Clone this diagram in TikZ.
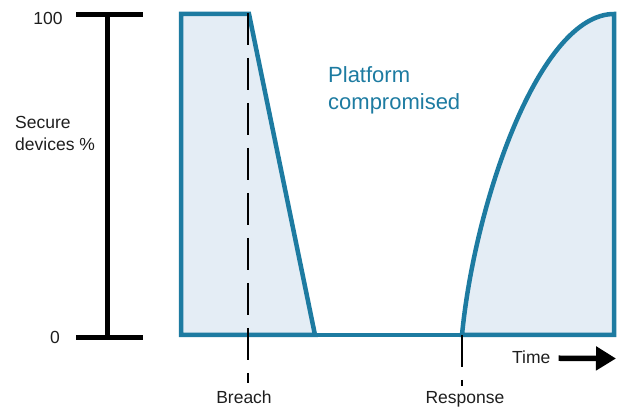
\documentclass[tikz,border=0pt]{standalone}
\usepackage{fontspec}
\setmainfont{Liberation Sans}
\usetikzlibrary{arrows.meta}

\definecolor{lineBlue}{HTML}{1D7BA1}
\definecolor{fillBlue}{HTML}{E4EDF5}
\definecolor{textGrey}{HTML}{1E1E1E}

\tikzset{
    lbl/.style={inner sep=0pt, text=textGrey, font=\fontsize{17.5}{22}\selectfont},
    curveline/.style={draw=lineBlue, line width=4.5pt},
    marker/.style={line width=2pt, dash pattern=on 32pt off 13pt}
}

\begin{document}
\begin{tikzpicture}[x=1pt, y=-1pt]
    \useasboundingbox (0,0) rectangle (619,411);

    \def\axisX{107.5}
    \def\topY{14}
    \def\baseY{335}
    \def\breachX{247.5}
    \def\responseX{462}
    \def\rightX{614}

    % secure-devices axis
    \draw[line width=5pt] (\axisX, 15) -- (\axisX, 338);
    \draw[line width=5pt] (76, 15) -- (143, 15);
    \draw[line width=5pt] (76, 338) -- (143, 338);
    \node[lbl, anchor=base east] (hundred) at (62.7, 25) {100};
    \node[lbl, anchor=base east] (zero) at (60, 344) {0};
    % base anchor sits on the last line
    \node[lbl, align=left, anchor=base west] (ylabel) at (15, 151) {Secure\\devices \%};

    % drop after the breach
    \fill[fillBlue] (181, \topY) -- (249, \topY) -- (315, \baseY) -- (181, \baseY) -- cycle;
    \draw[curveline] (181, \topY) -- (249, \topY) -- (315, \baseY) -- (181, \baseY) -- cycle;

    % flat part
    \draw[curveline] (315, \baseY) -- (\responseX, \baseY);

    % recovery after the response
    \fill[fillBlue] (\responseX, \baseY) .. controls (475, 200) and (540, \topY) .. (\rightX, \topY) -- (\rightX, \baseY) -- cycle;
    \draw[curveline] (\responseX, \baseY) .. controls (475, 200) and (540, \topY) .. (\rightX, \topY) -- (\rightX, \baseY) -- cycle;

    \node[inner sep=0pt, text=lineBlue, align=left, anchor=base west,
          font=\fontsize{22}{27}\selectfont] (compromised) at (328, 110) {Platform\\compromised};

    % event markers
    \node[lbl, anchor=base] (breach) at (244, 404) {Breach};
    \node[lbl, anchor=base] (response) at (465, 404) {Response};
    \coordinate (breachTop) at (\breachX, 13);
    \coordinate (breachEnd) at (\breachX, 383);
    \coordinate (responseTop) at (\responseX, 335);
    \coordinate (responseEnd) at (\responseX, 386);
    \draw[marker] (breachTop) -- (breachEnd);
    \draw[marker] (responseTop) -- (responseEnd);

    % time arrow
    \node[lbl, anchor=base west] (timelabel) at (512, 364) {Time};
    \coordinate (timeTip) at (616, 358.5);
    \draw[line width=5.5pt, -{Triangle[length=20pt, width=23pt]}] ([xshift=8pt, yshift=-0.5pt]timelabel.east) -- (timeTip);

\end{tikzpicture}
\end{document}
